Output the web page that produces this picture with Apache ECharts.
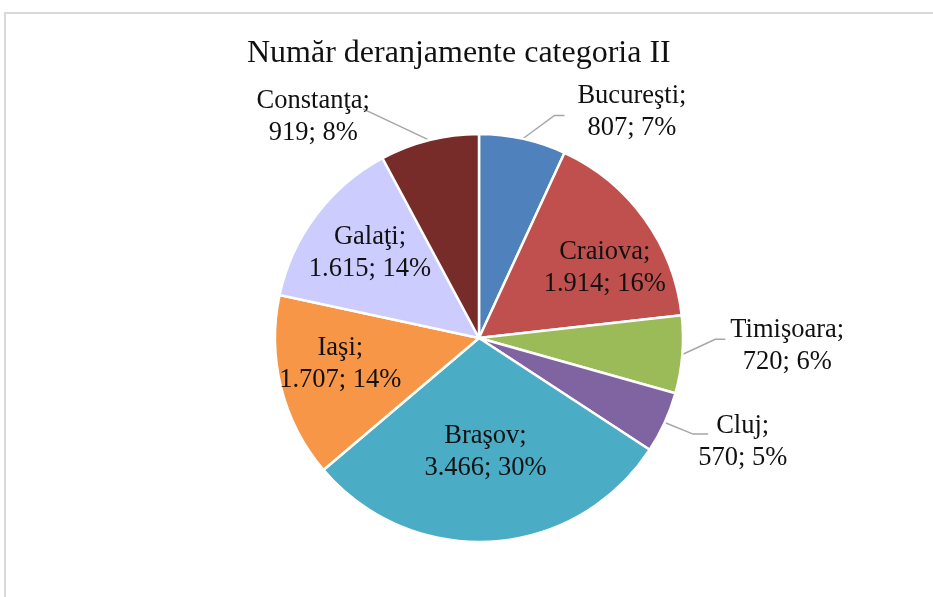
<!DOCTYPE html>
<html>
<head>
<meta charset="utf-8">
<title>Număr deranjamente categoria II</title>
<script src="https://cdn.jsdelivr.net/npm/echarts@6/dist/echarts.min.js"></script>
<style>
  html, body { margin: 0; padding: 0; background: #fff; }
  #chart { width: 933px; height: 597px; }
</style>
</head>
<body>
<div id="chart"></div>
<script>
// date: numar deranjamente pe judete (sensul acelor de ceas, de sus)
var cities = ['Bucureşti', 'Craiova', 'Timişoara', 'Cluj', 'Braşov', 'Iaşi', 'Galaţi', 'Constanţa'];
var counts = [807, 1914, 720, 570, 3466, 1707, 1615, 919];
var shares = ['7%', '16%', '6%', '5%', '30%', '14%', '14%', '8%'];

var colors = ['#4F81BD', '#C0504D', '#9BBB59', '#8064A2', '#4BACC6', '#F79646', '#CCCCFF', '#772C2A'];
var FONT = '"Liberation Serif", "Times New Roman", serif';

// separator de mii cu punct (format romanesc)
function fmt(v) {
    return String(v).replace(/\B(?=(\d{3})+(?!\d))/g, '.');
}

// cum se aseaza eticheta fiecarei felii
//  outside: len/len2 = linia ECharts, dy = mutare verticala,
//           gx/oy/el = capatul liniei fata de eticheta (stil Excel)
//  mid: eticheta la ~0.7 din raza, dx/dy = mica ajustare
var place = {
    0: { pos: 'outside', len: 31, len2: 43, dy: 4, gx: -13, oy: 3, el: 10 },
    1: { pos: 'mid', dx: 9, dy: 14 },
    2: { pos: 'outside', len: 8, len2: 35, dy: -9, gx: -5, oy: -7, el: 10 },
    3: { pos: 'outside', len: 28, len2: 3, dy: 8, gx: 10, oy: -8, el: 15 },
    4: { pos: 'inside', pad: [18, 0, 0, 0] },
    5: { pos: 'mid', dx: 1, dy: -9 },
    6: { pos: 'mid', dx: 6, dy: 2 },
    7: { pos: 'outside', len: 26, len2: 48, dy: 2, gx: -7, oy: -8, el: 0 }
};

var labelRich = {
    a: { align: 'center', fontFamily: FONT, fontSize: 26.5, lineHeight: 32, color: '#111' }
};

function labelText(p) {
    return '{a|' + p.name + ';}\n{a|' + fmt(p.value) + '; ' + shares[p.dataIndex] + '}';
}

var mainData = cities.map(function (c, i) {
    var cfg = place[i];
    var item = { name: c, value: counts[i], itemStyle: { color: colors[i] } };
    if (cfg.pos === 'mid') {
        item.label = { show: false };
        item.labelLine = { show: false };
    } else if (cfg.pos === 'inside') {
        item.label = { show: true, position: 'inside', padding: cfg.pad || 0 };
        item.labelLine = { show: false };
    } else {
        item.label = { show: true, position: 'outside' };
        item.labelLine = { show: true, length: cfg.len, length2: cfg.len2 };
    }
    return item;
});

// serie transparenta, doar pentru etichetele asezate la ~0.7 din raza
var midData = cities.map(function (c, i) {
    return {
        name: c,
        value: counts[i],
        label: { show: place[i].pos === 'mid' }
    };
});

var chart = echarts.init(document.getElementById('chart'));

chart.setOption({
    backgroundColor: '#fff',
    animation: false,
    title: {
        text: 'Număr deranjamente categoria II',
        left: 242,
        top: 33,
        textStyle: { fontFamily: FONT, fontSize: 32, fontWeight: 'normal', color: '#111' }
    },
    graphic: [{
        type: 'rect',
        silent: true,
        shape: { x: 5, y: 13, width: 1000, height: 700 },
        style: { fill: 'none', stroke: '#d9d9d9', lineWidth: 2 }
    }],
    series: [
        {
            type: 'pie',
            center: [479, 338],
            radius: 204,
            startAngle: 90,
            clockwise: true,
            avoidLabelOverlap: false,
            itemStyle: { borderColor: '#fff', borderWidth: 2.5 },
            label: {
                formatter: labelText,
                rich: labelRich,
                distanceToLabelLine: 5
            },
            labelLine: {
                lineStyle: { color: '#A6A6A6', width: 1.5 }
            },
            // linii de legatura ca in Excel: oblic pana aproape de text, apoi scurt orizontal
            labelLayout: function (p) {
                var cfg = place[p.dataIndex];
                if (cfg.pos !== 'outside' || !p.labelLinePoints) return {};
                var r = p.labelRect;
                var start = p.labelLinePoints[0];
                var cy = r.y + r.height / 2 + cfg.dy;
                var right = r.x > start[0];
                var ex = (right ? r.x : r.x + r.width) + cfg.gx;
                var ey = cy + cfg.oy;
                var bx = right ? ex - cfg.el : ex + cfg.el;
                return {
                    dy: cfg.dy,
                    labelLinePoints: [start, [bx, ey], [ex, ey]]
                };
            },
            emphasis: { disabled: true },
            data: mainData
        },
        {
            type: 'pie',
            center: [479, 338],
            radius: 282,
            startAngle: 90,
            clockwise: true,
            silent: true,
            z: 3,
            itemStyle: { color: 'rgba(0,0,0,0)', borderWidth: 0 },
            label: {
                position: 'inside',
                formatter: labelText,
                rich: labelRich
            },
            labelLine: { show: false },
            labelLayout: function (p) {
                var cfg = place[p.dataIndex];
                if (cfg.pos !== 'mid') return {};
                return { dx: cfg.dx, dy: cfg.dy };
            },
            emphasis: { disabled: true },
            data: midData
        }
    ]
});
</script>
</body>
</html>
